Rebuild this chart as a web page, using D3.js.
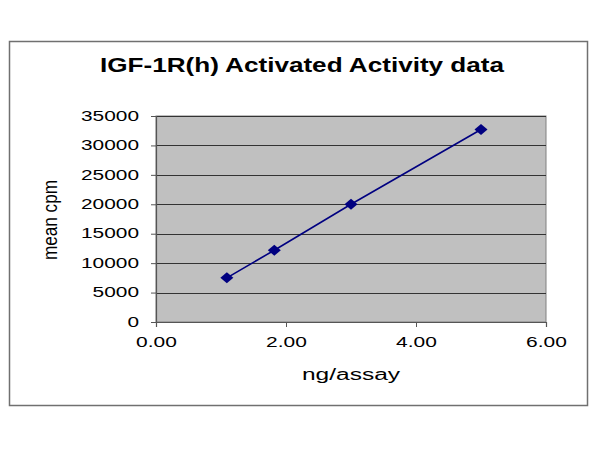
<!DOCTYPE html>
<html><head><meta charset="utf-8">
<script src="https://cdn.jsdelivr.net/npm/d3@7"></script>
<style>body{margin:0;background:#fff}</style>
</head><body>
<script>
const xValues = [1.09, 1.82, 3.0, 5.0];
const yValues = [7500, 12200, 20000, 32700];
const xTicks = [0, 2, 4, 6];
const yTicks = [0, 5000, 10000, 15000, 20000, 25000, 30000, 35000];
const title = "IGF-1R(h) Activated Activity data";
const xLabel = "ng/assay";
const yLabel = "mean cpm";

const W = 600, H = 450;
const svg = d3.select("body").append("svg").attr("width", W).attr("height", H);
svg.append("rect").attr("x", 9.5).attr("y", 41.5).attr("width", 578).attr("height", 364)
  .attr("fill", "#fff").attr("stroke", "#707070").attr("stroke-width", 1.5);

const L = 156, R = 546, T = 116, B = 322;
const x = d3.scaleLinear().domain([0, 6]).range([L, R]);
const y = d3.scaleLinear().domain([0, 35000]).range([B, T]);

svg.append("rect").attr("x", L).attr("y", T).attr("width", R - L).attr("height", B - T)
  .attr("fill", "#c0c0c0").attr("stroke", "#808080").attr("stroke-width", 1);

svg.append("g").selectAll("line").data(yTicks.slice(1)).join("line")
  .attr("x1", L).attr("x2", R).attr("y1", d => Math.round(y(d)) + 0.5).attr("y2", d => Math.round(y(d)) + 0.5)
  .attr("stroke", "#333").attr("stroke-width", 1);

const font = "Arial, 'Liberation Sans', sans-serif";
const yAxis = svg.append("g").attr("transform", `translate(${L},0)`)
  .call(d3.axisLeft(y).tickValues(yTicks).tickFormat(d3.format("d")).tickSize(5).tickPadding(12));
const xAxis = svg.append("g").attr("transform", `translate(0,${B})`)
  .call(d3.axisBottom(x).tickValues(xTicks).tickFormat(d3.format(".2f")).tickSize(5).tickPadding(10));
[yAxis, xAxis].forEach(a => {
  a.select(".domain").attr("stroke", "#555").attr("stroke-width", 1.2);
  a.selectAll(".tick line").attr("stroke", "#555");
  a.selectAll("text").attr("font-family", font).attr("font-size", 14).attr("fill", "#000")
    .attr("lengthAdjust", "spacingAndGlyphs")
    .attr("textLength", function() { return this.textContent.replace(".", "").length * 11.6 + (this.textContent.includes(".") ? 6 : 0); });
});
yAxis.selectAll("text").attr("dy", "0.3em");

const line = d3.line().x((d, i) => x(xValues[i])).y(d => y(d));
svg.append("path").datum(yValues).attr("d", line).attr("fill", "none")
  .attr("stroke", "#000080").attr("stroke-width", 1.6);

const wideDiamond = { draw(ctx, size) { const w = 6.5, h = 5.5; ctx.moveTo(0, -h); ctx.lineTo(w, 0); ctx.lineTo(0, h); ctx.lineTo(-w, 0); ctx.closePath(); } };
svg.append("g").selectAll("path").data(yValues).join("path")
  .attr("d", d3.symbol(wideDiamond, 64))
  .attr("transform", (d, i) => `translate(${x(xValues[i])},${y(d)})`)
  .attr("fill", "#000080");

svg.append("text").attr("x", 302).attr("y", 72).attr("text-anchor", "middle")
  .attr("font-family", font).attr("font-weight", "bold").attr("font-size", 20)
  .attr("textLength", 404).attr("lengthAdjust", "spacingAndGlyphs").text(title);
svg.append("text").attr("x", 351).attr("y", 380).attr("text-anchor", "middle")
  .attr("font-family", font).attr("font-size", 16)
  .attr("textLength", 98).attr("lengthAdjust", "spacingAndGlyphs").text(xLabel);
svg.append("text").attr("transform", "translate(57,220) rotate(-90)").attr("text-anchor", "middle")
  .attr("font-family", font).attr("font-size", 20)
  .attr("textLength", 80).attr("lengthAdjust", "spacingAndGlyphs").text(yLabel);
</script>
</body></html>
